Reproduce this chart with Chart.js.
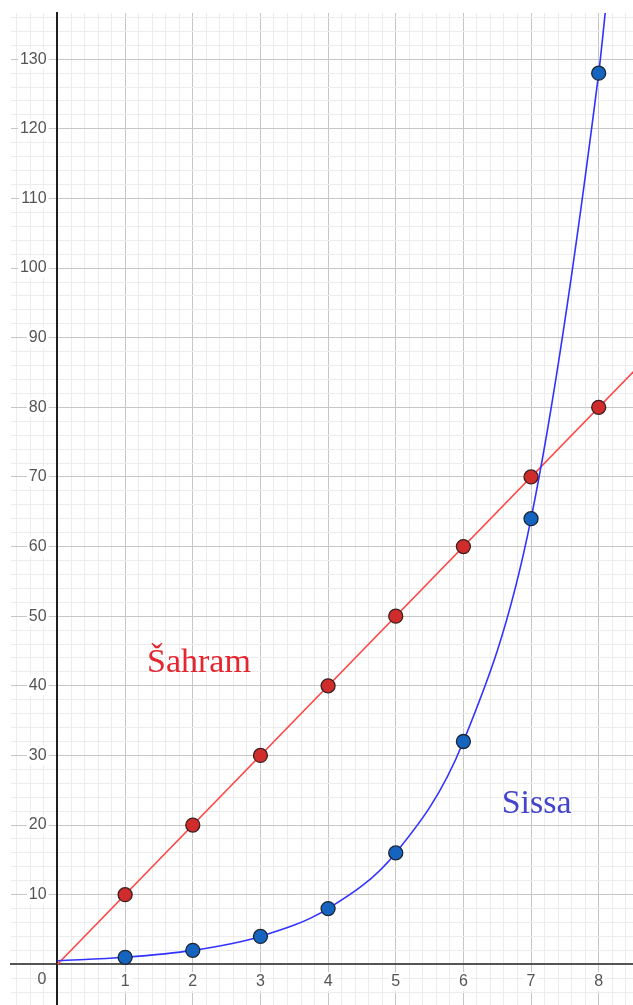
<!DOCTYPE html>
<html>
<head>
<meta charset="utf-8">
<script src="https://cdn.jsdelivr.net/npm/chart.js@4"></script>
<style>
  html, body { margin: 0; padding: 0; background: #ffffff; }
  canvas { display: block; }
</style>
</head>
<body>
<canvas id="c" width="633" height="1005"></canvas>
<script>
// ---- data ----
const xValues = [1, 2, 3, 4, 5, 6, 7, 8];
const sahramValues = [10, 20, 30, 40, 50, 60, 70, 80];
const sissaValues = [1, 2, 4, 8, 16, 32, 64, 128];
const sahramLineX = [0, 8.6];
const sahramLineY = [0, 86];
const sissaCurveX = [0, 1, 2, 3, 4, 5, 6, 7, 8, 8.1];
const sissaCurveY = [0.5, 1, 2, 4, 8, 16, 32, 64, 128, 137];
const xTickValues = [1, 2, 3, 4, 5, 6, 7, 8];
const xTickLabels = ['1', '2', '3', '4', '5', '6', '7', '8'];
const yTickValues = [10, 20, 30, 40, 50, 60, 70, 80, 90, 100, 110, 120, 130];
const yTickLabels = ['10', '20', '30', '40', '50', '60', '70', '80', '90', '100', '110', '120', '130'];
const seriesNames = ['Šahram', 'Sissa'];

// ---- view settings ----
const X_MIN = -0.687, X_MAX = 8.507;
const Y_MIN = -5.85, Y_MAX = 136.64;
const X_MINOR = 0.2, X_MAJOR = 1;
const Y_MINOR = 2, Y_MAJOR = 10;
const Y_LABEL_AT = -0.16;
const nameSpots = [{x: 1.323, y: 42.0}, {x: 6.566, y: 21.8}];
const nameColors = ['#e3262f', '#4444cc'];

const pts = (xs, ys) => xs.map((x, i) => ({x: x, y: ys[i]}));
const near = (a, b) => Math.abs(a - b) < 1e-6;
const isMult = (v, m) => near(v / m, Math.round(v / m));

function stepTicks(min, max, step) {
  const out = [];
  for (let k = Math.ceil(min / step); k <= Math.floor(max / step); k++) {
    out.push({value: Math.round(k * step * 1e6) / 1e6});
  }
  return out;
}
function zeroPad(scale) {
  scale.paddingTop = 0; scale.paddingBottom = 0;
  scale.paddingLeft = 0; scale.paddingRight = 0;
}
function labelFor(values, labels) {
  return function (value) {
    const i = values.findIndex(v => near(v, value));
    return i >= 0 ? labels[i] : '';
  };
}

const tickFont = {family: 'Liberation Sans, Arial, sans-serif', size: 16};
const tickColor = '#555555';

const textPlugin = {
  id: 'texts',
  afterDraw(chart) {
    const ctx = chart.ctx;
    const xs = chart.scales.x, ys = chart.scales.y;
    ctx.save();
    // origin label
    ctx.font = '16px Liberation Sans, Arial, sans-serif';
    ctx.fillStyle = tickColor;
    ctx.textAlign = 'center';
    ctx.textBaseline = 'middle';
    ctx.fillText('0', xs.getPixelForValue(0) - 15.5, ys.getPixelForValue(0) + 15.5);
    // series names
    ctx.font = '34px Liberation Serif, Times New Roman, serif';
    ctx.textAlign = 'left';
    ctx.textBaseline = 'alphabetic';
    seriesNames.forEach((n, i) => {
      ctx.fillStyle = nameColors[i];
      ctx.fillText(n, xs.getPixelForValue(nameSpots[i].x), ys.getPixelForValue(nameSpots[i].y));
    });
    ctx.restore();
  }
};

new Chart(document.getElementById('c'), {
  type: 'line',
  data: {
    datasets: [
      {
        label: seriesNames[0] + ' line',
        data: pts(sahramLineX, sahramLineY),
        borderColor: '#ff4545',
        borderWidth: 1.6,
        pointRadius: 0,
        tension: 0,
        order: 3
      },
      {
        label: seriesNames[1] + ' curve',
        data: pts(sissaCurveX, sissaCurveY),
        borderColor: '#3333ff',
        borderWidth: 1.6,
        pointRadius: 0,
        cubicInterpolationMode: 'monotone',
        order: 2
      },
      {
        label: seriesNames[0],
        data: pts(xValues, sahramValues),
        showLine: false,
        pointRadius: 7,
        pointBackgroundColor: '#d12c2c',
        pointBorderColor: '#3a2020',
        pointBorderWidth: 1.3,
        order: 1
      },
      {
        label: seriesNames[1],
        data: pts(xValues, sissaValues),
        showLine: false,
        pointRadius: 7,
        pointBackgroundColor: '#1565c0',
        pointBorderColor: '#1d2633',
        pointBorderWidth: 1.3,
        order: 1
      }
    ]
  },
  options: {
    responsive: false,
    animation: false,
    devicePixelRatio: 1,
    layout: {autoPadding: false, padding: {left: 11, top: 13, right: 0, bottom: 0}},
    plugins: {legend: {display: false}, tooltip: {enabled: false}},
    events: [],
    scales: {
      x: {
        type: 'linear',
        position: {y: 0},
        min: X_MIN, max: X_MAX,
        afterBuildTicks: s => { s.ticks = stepTicks(X_MIN, X_MAX, X_MINOR); },
        afterFit: zeroPad,
        grid: {
          z: -2,
          drawTicks: false,
          lineWidth: 1,
          color: c => (c.tick && isMult(c.tick.value, X_MAJOR)) ? '#c6c6c6' : '#ececec'
        },
        border: {display: true, color: '#555555', width: 2, z: -1},
        ticks: {
          autoSkip: false,
          maxRotation: 0,
          padding: 8,
          font: tickFont,
          color: tickColor,
          callback: labelFor(xTickValues, xTickLabels),
          showLabelBackdrop: c => c.tick && xTickValues.some(v => near(v, c.tick.value)),
          backdropColor: '#ffffff',
          backdropPadding: {x: 2, y: 0}
        }
      },
      y: {
        type: 'linear',
        position: {x: Y_LABEL_AT},
        min: Y_MIN, max: Y_MAX,
        afterBuildTicks: s => { s.ticks = stepTicks(Y_MIN, Y_MAX, Y_MINOR); },
        afterFit: zeroPad,
        grid: {
          z: -2,
          drawTicks: false,
          lineWidth: 1,
          color: c => (c.tick && isMult(c.tick.value, Y_MAJOR)) ? '#c6c6c6' : '#ececec'
        },
        border: {display: false},
        ticks: {
          autoSkip: false,
          padding: 0,
          font: tickFont,
          color: tickColor,
          callback: labelFor(yTickValues, yTickLabels),
          showLabelBackdrop: c => c.tick && yTickValues.some(v => near(v, c.tick.value)),
          backdropColor: '#ffffff',
          backdropPadding: {x: 2, y: 0}
        }
      },
      yAxisLine: {
        type: 'linear',
        axis: 'y',
        position: {x: 0},
        min: Y_MIN, max: Y_MAX,
        afterFit: zeroPad,
        grid: {display: true, color: 'rgba(0,0,0,0)', drawTicks: false, z: -2},
        border: {display: true, color: '#1e1e1e', width: 2, z: -1},
        ticks: {display: false}
      }
    }
  },
  plugins: [textPlugin]
});
</script>
</body>
</html>
